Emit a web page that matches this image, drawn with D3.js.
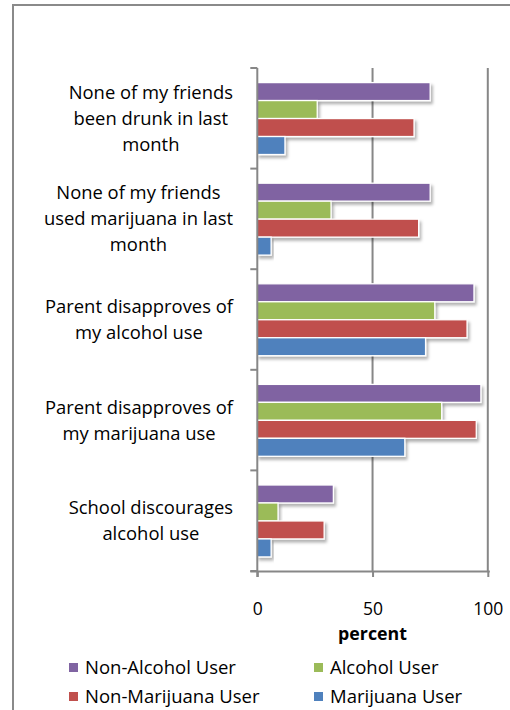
<!DOCTYPE html>
<html>
<head>
<meta charset="utf-8">
<script src="https://cdn.jsdelivr.net/npm/d3@7"></script>
<style>
  html, body { margin: 0; padding: 0; background: #fff; }
  svg { display: block; }
  text { font-family: "Open Sans", sans-serif; fill: #000; }
</style>
</head>
<body>
<div id="chart"></div>
<script>
// Category labels, already broken into lines as they are shown on the axis
const categoryLines = [
  ["None of my friends", "been drunk in last", "month"],
  ["None of my friends", "used marijuana in last", "month"],
  ["Parent disapproves of", "my alcohol use"],
  ["Parent disapproves of", "my marijuana use"],
  ["School discourages", "alcohol use"]
];
const seriesNames = ["Non-Alcohol User", "Alcohol User", "Non-Marijuana User", "Marijuana User"];
const seriesColors = ["#8064A2", "#9BBB59", "#C0504D", "#4F81BD"];

// Percent values per category, one array per group
const nonAlcoholUser   = [75, 75, 94, 97, 33];
const alcoholUser      = [26, 32, 77, 80, 9];
const nonMarijuanaUser = [68, 70, 91, 95, 29];
const marijuanaUser    = [12, 6, 73, 64, 6];

const xTicks = [0, 50, 100];
const xTitle = "percent";

const seriesValues = [nonAlcoholUser, alcoholUser, nonMarijuanaUser, marijuanaUser];

const W = 510, H = 710;
const svg = d3.select("#chart").append("svg").attr("width", W).attr("height", H);

// drop shadow for bars
const defs = svg.append("defs");
const f = defs.append("filter").attr("id", "shadow")
  .attr("x", "-10%").attr("y", "-30%").attr("width", "130%").attr("height", "180%");
f.append("feDropShadow").attr("dx", 2).attr("dy", 3).attr("stdDeviation", 1.8)
  .attr("flood-color", "#000").attr("flood-opacity", 0.3);

// outer frame
svg.append("rect").attr("x", 13).attr("y", 5).attr("width", 520).attr("height", 730)
  .attr("fill", "none").attr("stroke", "#8a8a8a").attr("stroke-width", 2);

const plot = { left: 257.3, right: 487.8, top: 68, bottom: 571 };

const x = d3.scaleLinear().domain([0, 100]).range([plot.left, plot.right]);
const y = d3.scaleBand().domain(d3.range(categoryLines.length))
  .range([plot.top, plot.bottom]).paddingInner(0).paddingOuter(0);
const ySub = d3.scaleBand().domain(d3.range(seriesNames.length))
  .range([y.bandwidth() * 0.145, y.bandwidth() * 0.86]).padding(0);

const grid = "#878787";

// vertical gridlines (excluding zero, which is the axis)
svg.append("g").selectAll("line").data(xTicks.filter(d => d !== 0)).join("line")
  .attr("x1", d => x(d)).attr("x2", d => x(d))
  .attr("y1", plot.top).attr("y2", plot.bottom)
  .attr("stroke", grid).attr("stroke-width", 2);

// bars
const groups = svg.append("g").selectAll("g").data(categoryLines.map((_, i) => i)).join("g")
  .attr("transform", i => `translate(0,${y(i)})`);
groups.selectAll("rect").data(i => seriesValues.map((vals, s) => ({ s, v: vals[i] }))).join("rect")
  .attr("x", x(0))
  .attr("y", d => ySub(d.s))
  .attr("width", d => x(d.v) - x(0))
  .attr("height", ySub.bandwidth())
  .attr("fill", d => seriesColors[d.s])
  .attr("stroke", "#fff").attr("stroke-width", 1.3)
  .attr("filter", "url(#shadow)");

// bottom axis
const xAxis = d3.axisBottom(x).tickValues(xTicks).tickSize(6).tickPadding(26).tickSizeOuter(0);
const gx = svg.append("g").attr("transform", `translate(0,${plot.bottom})`).call(xAxis);
gx.select(".domain").attr("d", `M${plot.left - 7},0.5H${plot.right + 2}`)
  .attr("stroke", grid).attr("stroke-width", 2);
gx.selectAll(".tick line").attr("stroke", grid).attr("stroke-width", 2);
gx.selectAll(".tick text").attr("font-size", 17.5).attr("font-family", "'Open Sans', sans-serif").attr("fill", "#000");

// left axis with ticks at category boundaries
const boundaries = d3.range(categoryLines.length + 1).map(i => plot.top + i * y.step());
const gy = svg.append("g");
gy.append("line").attr("x1", plot.left).attr("x2", plot.left)
  .attr("y1", plot.top).attr("y2", plot.bottom + 6)
  .attr("stroke", grid).attr("stroke-width", 2);
gy.selectAll("line.tk").data(boundaries).join("line").attr("class", "tk")
  .attr("x1", plot.left - 7).attr("x2", plot.left)
  .attr("y1", d => d).attr("y2", d => d)
  .attr("stroke", grid).attr("stroke-width", 2);

// category labels: block right-aligned, lines centered within block
const labelRight = 233, lineH = 26, fs = 18.4;
categoryLines.forEach((lines, i) => {
  const g = svg.append("g");
  const texts = lines.map(l => g.append("text").attr("font-size", fs).text(l));
  const maxW = d3.max(texts, t => t.node().getComputedTextLength());
  const cx = labelRight - maxW / 2;
  const cy = y(i) + y.bandwidth() / 2;
  const n = lines.length;
  texts.forEach((t, k) => {
    t.attr("x", cx).attr("text-anchor", "middle")
      .attr("y", cy + (k - (n - 1) / 2) * lineH + 6.5);
  });
});

// axis title
svg.append("text").attr("x", x(50)).attr("y", 640).attr("text-anchor", "middle")
  .attr("font-size", 17.8).attr("font-weight", "bold").text(xTitle);

// legend, two columns
const legendX = [69, 314], legendY = [663, 692];
const lg = svg.append("g").selectAll("g").data(seriesNames).join("g")
  .attr("transform", (d, i) => `translate(${legendX[i % 2]},${legendY[Math.floor(i / 2)]})`);
lg.append("rect").attr("width", 9).attr("height", 9).attr("fill", (d, i) => seriesColors[i]);
lg.append("text").attr("x", 16).attr("y", 11).attr("font-size", 18.5).text(d => d);
</script>
</body>
</html>
